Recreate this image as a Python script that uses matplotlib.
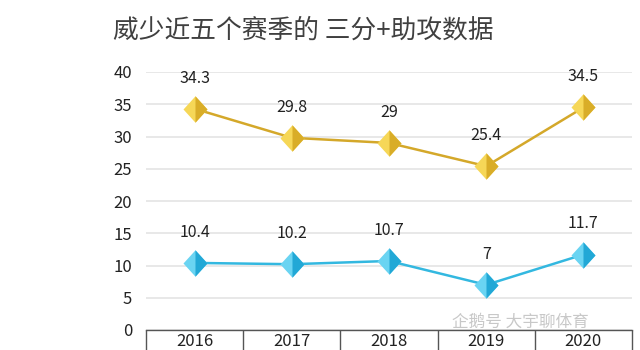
import matplotlib
matplotlib.use("Agg")
import matplotlib.pyplot as plt
from matplotlib.path import Path

plt.rcParams['font.family'] = ['Noto Sans CJK SC', 'DejaVu Sans']

# data
seasons = ['2016', '2017', '2018', '2019', '2020']
threes_assists = [34.3, 29.8, 29, 25.4, 34.5]
assists = [10.4, 10.2, 10.7, 7, 11.7]
y_ticks = [0, 5, 10, 15, 20, 25, 30, 35, 40]

GOLD_LINE = '#D4A82A'
GOLD_LIGHT = '#F6D757'
GOLD_DARK = '#D9AD28'
BLUE_LINE = '#33B8E0'
BLUE_LIGHT = '#6AD4F2'
BLUE_DARK = '#22A8D6'

# diamond markers, slightly taller than wide, right half darker ("pyramid")
H = 1.1
diamond = Path([(0, H), (1, 0), (0, -H), (-1, 0), (0, H)],
               [Path.MOVETO, Path.LINETO, Path.LINETO, Path.LINETO, Path.CLOSEPOLY])
half = Path([(0, H), (1, 0), (0, -H), (0, H)],
            [Path.MOVETO, Path.LINETO, Path.LINETO, Path.CLOSEPOLY])

fig = plt.figure(figsize=(6.4, 3.5), dpi=100)
ax = fig.add_axes([146 / 640, 1 - 330 / 350, 486 / 640, 258 / 350])

x = list(range(len(seasons)))

for vals, line_c, light_c, dark_c in [(threes_assists, GOLD_LINE, GOLD_LIGHT, GOLD_DARK),
                                      (assists, BLUE_LINE, BLUE_LIGHT, BLUE_DARK)]:
    ax.plot(x, vals, color=line_c, lw=1.8, zorder=3)
    ax.plot(x, vals, ls='none', marker=diamond, ms=19, color=light_c,
            markeredgewidth=0, zorder=4)
    ax.plot(x, vals, ls='none', marker=half, ms=19, color=dark_c,
            markeredgewidth=0, zorder=5)
    for xi, v in zip(x, vals):
        ax.annotate('{:g}'.format(v), (xi, v), xytext=(0, 22),
                    textcoords='offset points', ha='center', va='center',
                    fontsize=11.5, color='#222222')

ax.set_ylim(0, 40)
ax.set_xlim(-0.5, len(seasons) - 0.5)
ax.set_yticks(y_ticks)
ax.yaxis.grid(True, color='#E6E6E6', lw=1.3)
ax.set_axisbelow(True)
ax.tick_params(axis='y', length=0, labelsize=12, labelcolor='#222222', pad=10)

# category table under the axis
ax.set_xticks(x)
ax.set_xticklabels(seasons)
ax.tick_params(axis='x', which='major', length=0, labelsize=12,
               labelcolor='#222222', pad=2)
ax.set_xticks([i - 0.5 for i in range(len(seasons) + 1)], minor=True)
ax.tick_params(axis='x', which='minor', length=25, width=1, color='#555555',
               direction='out')

for s in ['top', 'right', 'left']:
    ax.spines[s].set_visible(False)
ax.spines['bottom'].set_color('#555555')
ax.spines['bottom'].set_linewidth(1)

fig.text(113 / 640, 1 - 31 / 350, '威少近五个赛季的 三分+助攻数据', fontsize=18.5,
         color='#404040', ha='left', va='center')

# watermark
fig.text(452 / 640, 1 - 322 / 350, '企鹅号 大宇聊体育', fontsize=12,
         color='#BBBBBB', alpha=0.8, ha='left', va='center')

fig.savefig('out.png', dpi=100)
